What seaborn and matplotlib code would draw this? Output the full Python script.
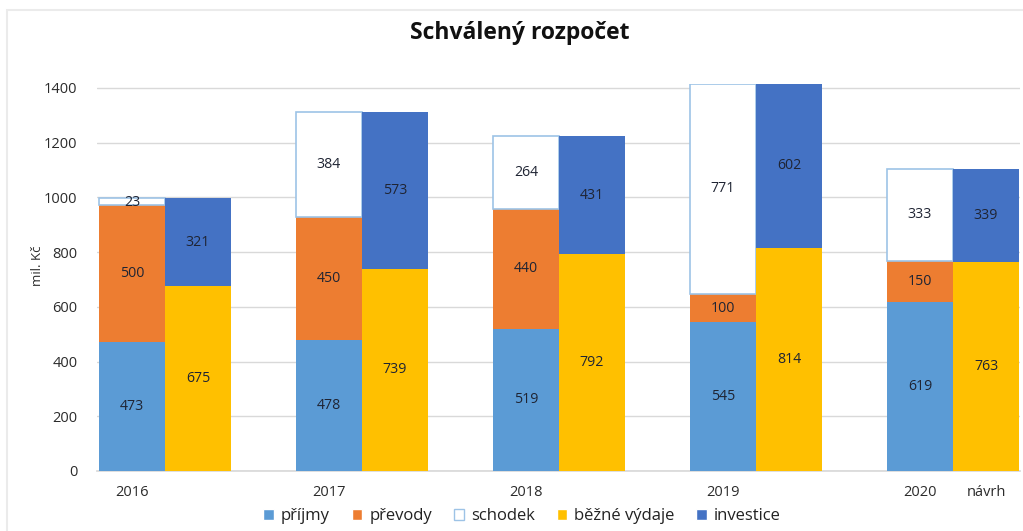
import seaborn as sns
from matplotlib import pyplot as plt
from matplotlib.patches import Rectangle, Patch
import numpy as np

sns.set_theme(style="white")
plt.rcParams['font.family'] = ['Open Sans', 'DejaVu Sans']

years = ["2016", "2017", "2018", "2019", "2020"]
prijmy = [473, 478, 519, 545, 619]
prevody = [500, 450, 440, 100, 150]
schodek = [23, 384, 264, 771, 333]
bezne = [675, 739, 792, 814, 763]
investice = [321, 573, 431, 602, 339]

c_prijmy = "#5B9BD5"
c_prevody = "#ED7D31"
c_bezne = "#FFC000"
c_invest = "#4472C4"
c_edge = "#9DC3E6"
txt = "#1f2433"

bw = 0.335
grp = np.arange(len(years))
xl = grp - bw / 2
xr = grp + bw / 2

fig = plt.figure(figsize=(10.23, 5.31), dpi=100)
ax = fig.add_axes([97 / 1023, 1 - 471 / 531, 923 / 1023, 387.5 / 531])

p = np.array(prijmy)
v = np.array(prevody)
s = np.array(schodek)
b = np.array(bezne)
inv = np.array(investice)

layers = [
    (xl, p, 0, c_prijmy, "none", 0),
    (xl, v, p, c_prevody, "none", 0),
    (xl, s, p + v, "white", c_edge, 1.2),
    (xr, b, 0, c_bezne, "none", 0),
    (xr, inv, b, c_invest, "none", 0),
]
for xs, vals, bot, col, ec, lw in layers:
    sns.barplot(x=xs, y=vals, bottom=bot, native_scale=True, width=bw,
                color=col, saturation=1, edgecolor=ec, linewidth=lw,
                errorbar=None, ax=ax, zorder=3)

# value labels centred in each segment
for xs, vals, bot in [(xl, p, 0 * p), (xl, v, p), (xl, s, p + v), (xr, b, 0 * b), (xr, inv, b)]:
    for x, h, b0 in zip(xs, vals, bot):
        y = b0 + h / 2
        if h < 40:
            y = b0 + h / 2 - 3
        ax.text(x, y, str(h), ha="center", va="center", fontsize=10.2,
                color=txt, zorder=5)

ax.set_xlim(-0.345, 4.34)
ax.set_ylim(0, 1416)
ax.set_yticks(range(0, 1401, 200))
ax.set_yticklabels([str(t) for t in range(0, 1401, 200)], fontsize=10.5, color="#2b2b2b")
ax.set_xticks(list(xl) + [xr[-1]])
ax.set_xticklabels(years + ["návrh"], fontsize=10.5, color="#2b2b2b")
ax.tick_params(axis="x", length=0, pad=10)
ax.tick_params(axis="y", length=0, pad=14)
ax.yaxis.grid(True, color="#D9D9D9", linewidth=1, zorder=0)
ax.set_axisbelow(True)
for sp in ["top", "right", "left"]:
    ax.spines[sp].set_visible(False)
ax.spines["bottom"].set_color("#D9D9D9")
ax.spines["bottom"].set_zorder(1)
ax.set_ylabel("mil. Kč", fontsize=9.5, color="#2b2b2b")
ax.yaxis.set_label_coords(-0.057, 0.53)
ax.set_xlabel("")

fig.text(520 / 1023, 1 - 33 / 531, "Schválený rozpočet", ha="center", va="center",
         fontsize=16.5, fontweight="bold", color="#111111")

handles = [
    Patch(facecolor=c_prijmy, label="příjmy"),
    Patch(facecolor=c_prevody, label="převody"),
    Patch(facecolor="white", edgecolor=c_edge, label="schodek"),
    Patch(facecolor=c_bezne, label="běžné výdaje"),
    Patch(facecolor=c_invest, label="investice"),
]
fig.legend(handles=handles, loc="center", bbox_to_anchor=(522 / 1023, 1 - 516 / 531),
           ncol=5, frameon=False, fontsize=12, handlelength=0.65, handleheight=0.65,
           handletextpad=0.4, columnspacing=1.3, labelcolor="#222222")

fig.patches.append(Rectangle((7 / 1023, -0.1), 1.1, 1 - 10 / 531 + 0.1,
                             transform=fig.transFigure, fill=False,
                             edgecolor="#EBEBEB", linewidth=1.5))

fig.savefig("out.png", dpi=100)
